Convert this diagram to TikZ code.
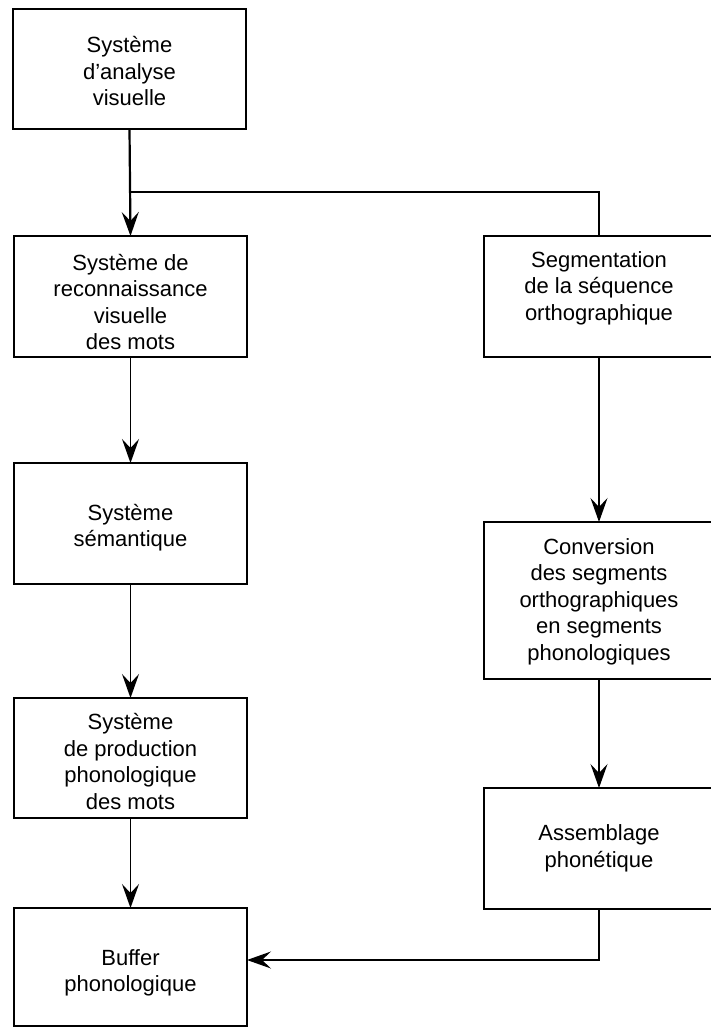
\documentclass[tikz,border=0pt]{standalone}
\usepackage{fontspec}
\setmainfont{Liberation Sans}
\usetikzlibrary{arrows.meta}
\begin{document}
\begin{tikzpicture}[x=0.5pt,y=-0.5pt,
  box/.style={draw, line width=0.9pt, rectangle, outer sep=0pt, inner sep=0pt,
    minimum width=116.5pt},
  rbox/.style={box, minimum width=115pt},
  lbl/.style={align=center, inner sep=0pt, font=\fontsize{11pt}{13.25pt}\selectfont},
  conn/.style={line width=0.7pt},
  arr/.style={conn, -{Stealth[length=12pt,width=8.5pt,inset=4.5pt]}}]
\useasboundingbox (0,0) rectangle (711,1028);
\node[box, minimum height=60pt,
  label={[lbl, name=t1, yshift=-1.2pt]center:Système\\d'analyse\\visuelle}] (b1) at (129.5,69) {};
\node[box, minimum height=60.5pt,
  label={[lbl, name=t2, yshift=-2.8pt]center:Système de\\reconnaissance\\visuelle\\des mots}] (b2) at (130.5,296.5) {};
\node[box, minimum height=60.5pt,
  label={[lbl, name=t3, yshift=-2.2pt]center:Système\\sémantique}] (b3) at (130.5,523.5) {};
\node[box, minimum height=60pt,
  label={[lbl, name=t4, yshift=-1.7pt]center:Système\\de production\\phonologique\\des mots}] (b4) at (130.5,758) {};
\node[box, minimum height=59pt,
  label={[lbl, name=t5, yshift=-2.8pt]center:Buffer\\phonologique}] (b5) at (130.5,967) {};
\node[rbox, minimum height=60.5pt,
  label={[lbl, name=s1, yshift=4.2pt]center:Segmentation\\de la séquence\\orthographique}] (r1) at (599,296.5) {};
\node[rbox, minimum height=78.5pt,
  label={[lbl, name=s2, yshift=-0.5pt]center:Conversion\\des segments\\orthographiques\\en segments\\phonologiques}] (r2) at (599,600.5) {};
\node[rbox, minimum height=60.5pt,
  label={[lbl, name=s3]center:Assemblage\\phonétique}] (r3) at (599,848.5) {};
\coordinate (j) at (129.5,192);
\draw[arr, line width=1.1pt] (b1.south) -- (b2.north);
\draw[conn] (j) -| (r1.north);
\draw[arr] (b2.south) -- (b3.north);
\draw[arr] (b3.south) -- (b4.north);
\draw[arr] (b4.south) -- (b5.north);
\draw[arr] (r1.south) -- (r2.north);
\draw[arr] (r2.south) -- (r3.north);
\draw[arr] (r3.south) |- ([yshift=3.5pt]b5.east);
\end{tikzpicture}
\end{document}
